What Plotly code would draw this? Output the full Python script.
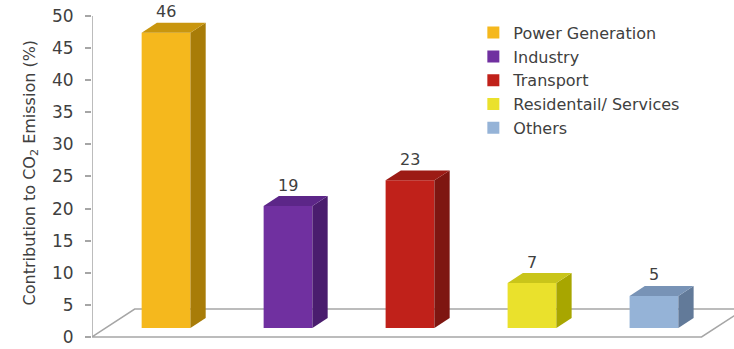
import plotly.graph_objects as go

# Sector shares of CO2 emissions (%)
sectors = ["Power Generation", "Industry", "Transport", "Residentail/ Services", "Others"]
shares = [46, 19, 23, 7, 5]
front_colors = ["#F5B81D", "#7030A0", "#C0211A", "#EAE12C", "#95B3D7"]
side_colors = ["#A87C08", "#4A1D6E", "#7E1611", "#A8A600", "#627A99"]
top_colors = ["#C9960E", "#5C2688", "#9C1B15", "#C9C51A", "#7893B6"]
y_ticks = [0, 5, 10, 15, 20, 25, 30, 35, 40, 45, 50]

# Pseudo-3D geometry (data units)
BAR_W = 0.40        # front face width
DEPTH_X = 0.125     # bar depth, horizontal
DEPTH_Y = 1.55      # bar depth, vertical
BASE = 1.4          # front-bottom edge of the bars above the floor's front edge
FLOOR_DX = 0.35     # floor depth, horizontal
FLOOR_DY = 4.35     # floor depth, vertical
FLOOR_END = 4.39    # right end of the floor front edge
X_RANGE = [-0.607, 4.656]
Y_RANGE = [-1.87, 52.49]

GRAY = "#A6A6A6"
TEXT = "#404040"
FONT = "DejaVu Sans"

fig = go.Figure()

# Front faces of the columns
for i, (name, v) in enumerate(zip(sectors, shares)):
    fig.add_trace(go.Bar(
        x=[i], y=[v], base=BASE, width=BAR_W, name=name,
        marker=dict(color=front_colors[i], line=dict(width=0)),
        hoverinfo="skip",
    ))

# Side and top faces
for i, v in enumerate(shares):
    r = i + BAR_W / 2
    l = i - BAR_W / 2
    top = BASE + v
    fig.add_trace(go.Scatter(
        x=[r, r + DEPTH_X, r + DEPTH_X, r, r],
        y=[BASE, BASE + DEPTH_Y, top + DEPTH_Y, top, BASE],
        fill="toself", fillcolor=side_colors[i], mode="lines",
        line=dict(width=0, color=side_colors[i]), showlegend=False, hoverinfo="skip",
    ))
    fig.add_trace(go.Scatter(
        x=[l, r, r + DEPTH_X, l + DEPTH_X, l],
        y=[top, top, top + DEPTH_Y, top + DEPTH_Y, top],
        fill="toself", fillcolor=top_colors[i], mode="lines",
        line=dict(width=0, color=top_colors[i]), showlegend=False, hoverinfo="skip",
    ))
    fig.add_annotation(
        x=i, y=top + DEPTH_Y, text=str(v), showarrow=False,
        yanchor="middle", yshift=11, font=dict(family=FONT, size=16, color=TEXT),
    )

# Floor outline
x0 = X_RANGE[0]
fig.add_shape(
    type="path", layer="below", line=dict(color=GRAY, width=1.5),
    path=(f"M {x0},0 L {FLOOR_END},0 L {FLOOR_END + FLOOR_DX},{FLOOR_DY} "
          f"L {x0 + FLOOR_DX},{FLOOR_DY} Z"),
)
# Value axis line
fig.add_shape(type="line", layer="below", x0=x0, x1=x0, y0=0, y1=50,
              line=dict(color=GRAY, width=1.5))

fig.add_annotation(
    xref="paper", yref="paper", x=-0.115, y=0.505, textangle=-90,
    text="Contribution to CO<sub>2</sub> Emission (%)", showarrow=False,
    font=dict(family=FONT, size=16, color=TEXT),
)

fig.update_layout(
    width=734, height=349,
    margin=dict(l=92, r=0, t=0, b=0),
    plot_bgcolor="white", paper_bgcolor="white",
    barmode="overlay",
    showlegend=True,
    legend=dict(
        x=0.594, y=0.955, xanchor="left", yanchor="top",
        font=dict(family=FONT, size=16, color=TEXT),
        bgcolor="rgba(0,0,0,0)", traceorder="normal",
    ),
    xaxis=dict(range=X_RANGE, visible=False, fixedrange=True),
    yaxis=dict(
        range=Y_RANGE, tickvals=y_ticks, ticks="outside", ticklen=6,
        tickcolor=GRAY, tickwidth=1.5, showgrid=False, zeroline=False,
        showline=False, tickfont=dict(family=FONT, size=17, color=TEXT),
        ticklabelstandoff=8, fixedrange=True,
    ),
)

fig.write_html("out.html")
